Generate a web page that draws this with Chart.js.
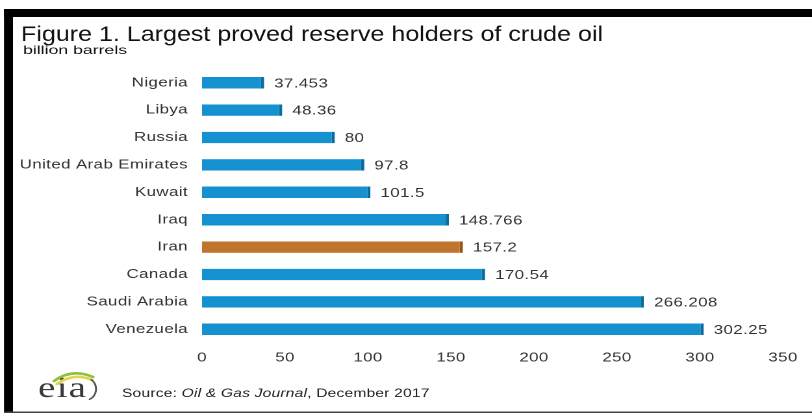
<!DOCTYPE html>
<html>
<head>
<meta charset="utf-8">
<title>Largest proved reserve holders of crude oil</title>
<script src="https://cdn.jsdelivr.net/npm/chart.js@4.4.1/dist/chart.umd.min.js"></script>
<style>
    html, body { margin: 0; padding: 0; background: #fff; overflow: hidden; }
    /* El original esta estirado a lo ancho: se dibuja a 625px y se estira a 812px */
    #grafico { position: relative; width: 625px; height: 415px; transform: scaleX(1.2992); transform-origin: 0 0; }
</style>
</head>
<body>
<div id="grafico"><canvas id="lienzo"></canvas></div>
<script>
const paises = ["Nigeria", "Libya", "Russia", "United Arab Emirates", "Kuwait", "Iraq", "Iran", "Canada", "Saudi Arabia", "Venezuela"];
const reservas = [37.453, 48.36, 80, 97.8, 101.5, 148.766, 157.2, 170.54, 266.208, 302.25];
const marcasX = [0, 50, 100, 150, 200, 250, 300, 350];
const destacado = "Iran";
const titulo = "Figure 1. Largest proved reserve holders of crude oil";
const unidad = "billion barrels";
const fuente = [["Source: ", false], ["Oil & Gas Journal", true], [", December 2017", false]];

const K = 812 / 625;               // estiramiento horizontal
const px = x => x / K;             // coordenada de pantalla -> coordenada del lienzo
const FUENTE = "'Liberation Sans', Arial, sans-serif";
const AZUL = "#1591d0";
const AZUL_BORDE = "#0b6c9e";
const CAFE = "#c0752e";
const CAFE_BORDE = "#955516";

const espaciado = {
    id: "espaciado",
    beforeDraw(chart) { chart.ctx.letterSpacing = "0.3px"; },
    afterDraw(chart) { chart.ctx.letterSpacing = "0px"; }
};

const etiquetasValor = {
    id: "etiquetasValor",
    afterDatasetsDraw(chart) {
        const ctx = chart.ctx;
        const meta = chart.getDatasetMeta(0);
        ctx.save();
        ctx.font = `13px ${FUENTE}`;
        ctx.fillStyle = "#333";
        ctx.textAlign = "left";
        ctx.textBaseline = "middle";
        ctx.letterSpacing = "0.3px";
        meta.data.forEach((barra, i) => {
            ctx.fillText(String(reservas[i]), barra.x + px(10), barra.y + 1);
        });
        ctx.restore();
    }
};

// texto comprimido o estirado hasta un ancho de pantalla dado
function textoAncho(ctx, texto, x, y, ancho) {
    const natural = ctx.measureText(texto).width;
    ctx.save();
    ctx.translate(px(x), y);
    ctx.scale(px(ancho) / natural, 1);
    ctx.fillText(texto, 0, 0);
    ctx.restore();
}

const marco = {
    id: "marco",
    afterDraw(chart) {
        const ctx = chart.ctx;
        ctx.save();
        ctx.letterSpacing = "0px";
        // borde negro
        ctx.fillStyle = "#000";
        ctx.fillRect(px(4), 9, chart.width, 8);
        ctx.fillRect(px(4), 9, px(9), 404);
        ctx.fillStyle = "#444";
        ctx.fillRect(px(4), 411.5, chart.width, 1.5);

        // titulo y unidad
        ctx.textAlign = "left";
        ctx.textBaseline = "alphabetic";
        ctx.fillStyle = "#111";
        ctx.font = `21px ${FUENTE}`;
        textoAncho(ctx, titulo, 21, 41, 582);
        ctx.font = `12px ${FUENTE}`;
        textoAncho(ctx, unidad, 23, 54, 104);

        // fuente
        let x = px(122);
        ctx.fillStyle = "#222";
        ctx.letterSpacing = "0.15px";
        fuente.forEach(([texto, cursiva]) => {
            ctx.font = `${cursiva ? "italic " : ""}12px ${FUENTE}`;
            ctx.fillText(texto, x, 397);
            x += ctx.measureText(texto).width;
        });

        // logo eia
        ctx.font = "30px 'Liberation Serif', serif";
        ctx.letterSpacing = "1px";
        ctx.fillStyle = "#3a3a3a";
        ctx.fillText("eia", px(38), 397);
        ctx.letterSpacing = "0px";
        ctx.lineCap = "round";
        ctx.lineWidth = 2.5;
        ctx.strokeStyle = "#8dc043";
        ctx.beginPath();
        ctx.moveTo(px(54), 381);
        ctx.quadraticCurveTo(px(72), 368, px(93), 377);
        ctx.stroke();
        ctx.strokeStyle = "#e6d34a";
        ctx.beginPath();
        ctx.moveTo(px(57), 384);
        ctx.quadraticCurveTo(px(74), 372, px(92), 380);
        ctx.stroke();
        ctx.strokeStyle = "#555";
        ctx.lineWidth = 1.5;
        ctx.beginPath();
        ctx.ellipse(px(86), 389, px(10), 11, 0, -1.0, 1.2);
        ctx.stroke();
        ctx.restore();
    }
};

function crearGrafico(canvas) {
    const colores = paises.map(p => p === destacado ? CAFE : AZUL);
    const bordes = paises.map(p => p === destacado ? CAFE_BORDE : AZUL_BORDE);
    return new Chart(canvas, {
        type: "bar",
        data: {
            labels: paises,
            datasets: [{
                data: reservas,
                backgroundColor: colores,
                borderColor: bordes,
                borderWidth: { top: 0, right: 2.5, bottom: 0, left: 0 },
                borderSkipped: false,
                barPercentage: 0.42,
                categoryPercentage: 1.0
            }]
        },
        options: {
            indexAxis: "y",
            responsive: true,
            maintainAspectRatio: false,
            animation: false,
            devicePixelRatio: 2,
            layout: { padding: { top: 69, right: px(29), bottom: 42, left: 0 } },
            scales: {
                x: {
                    min: 0,
                    max: 350,
                    afterBuildTicks: escala => { escala.ticks = marcasX.map(v => ({ value: v })); },
                    afterFit: escala => { escala.height = 30; },
                    grid: { display: false, drawTicks: false },
                    border: { display: false },
                    ticks: { padding: 7, color: "#333", font: { family: FUENTE, size: 13 } }
                },
                y: {
                    afterFit: escala => { escala.width = px(202); },
                    grid: { display: false, drawTicks: false },
                    border: { display: false },
                    ticks: { padding: px(14), color: "#333", font: { family: FUENTE, size: 13 } }
                }
            },
            plugins: {
                legend: { display: false },
                tooltip: { enabled: false }
            }
        },
        plugins: [espaciado, etiquetasValor, marco]
    });
}

crearGrafico(document.getElementById("lienzo"));
</script>
</body>
</html>
